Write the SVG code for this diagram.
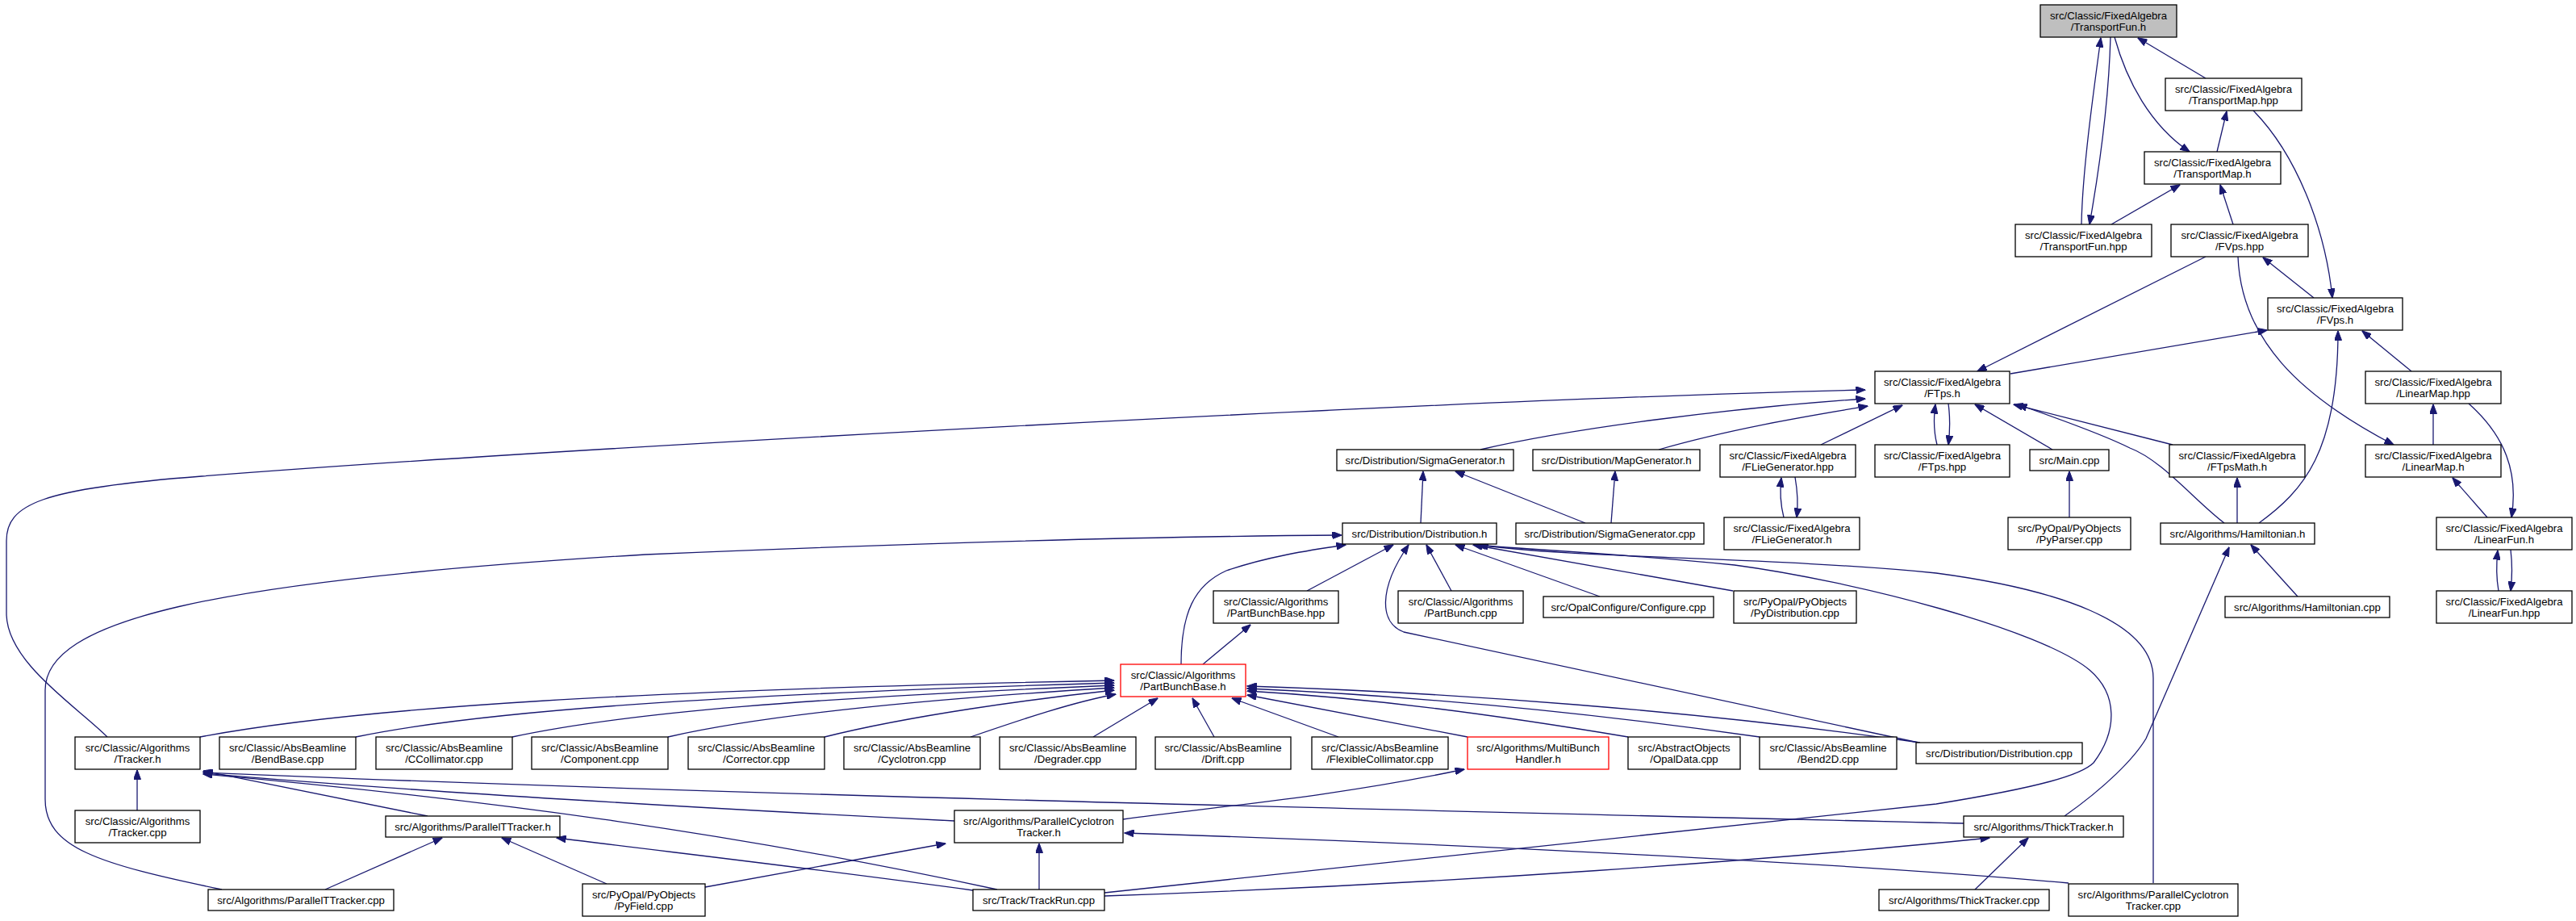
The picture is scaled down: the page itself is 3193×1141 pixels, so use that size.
<svg xmlns="http://www.w3.org/2000/svg" width="3193" height="1141" viewBox="0 0 3193 1141">
<style>
.node rect{fill:#fff;stroke:#000;stroke-width:1.3}
.root rect{fill:#bfbfbf}
.trunc rect{stroke:#ff0000}
text{font-family:"Liberation Sans",Arial,Helvetica,sans-serif;font-size:13.2px;text-anchor:middle;fill:#000}
.edges path{fill:none;stroke:#191970;stroke-width:1.3;marker-end:url(#arr)}
</style>
<defs>
<marker id="arr" viewBox="0 0 12 9" refX="11.5" refY="4.5" markerWidth="12" markerHeight="9" markerUnits="userSpaceOnUse" orient="auto">
<path d="M0,0 L12,4.5 L0,9 z" fill="#191970" stroke="#191970" stroke-width="1"/>
</marker>
</defs>
<rect x="0" y="0" width="3193" height="1141" fill="#fff"/>
<g class="edges" id="edges">
<path d="M2580,278 C2581,215 2594,120 2604,47"/>
<path d="M2616,46 C2614,120 2602,210 2590,278"/>
<path d="M2621,46 C2636,100 2665,155 2714,188"/>
<path d="M2734,97 L2650,47"/>
<path d="M2748,188 L2760,138"/>
<path d="M2793,137 C2845,190 2882,280 2891,369"/>
<path d="M2617,278 L2702,229"/>
<path d="M2768,278 L2752,229"/>
<path d="M2734,318 L2451,460"/>
<path d="M2774,318 C2778,420 2850,490 2967,551"/>
<path d="M2868,369 L2805,319"/>
<path d="M2492,463 L2810,409"/>
<path d="M2800,648 C2855,608 2898,560 2898,410"/>
<path d="M2989,460 L2928,410"/>
<path d="M3016,551 L3016,501"/>
<path d="M3060,500 C3105,540 3122,585 3113,641"/>
<path d="M2415,500 C2417,515 2417,535 2415,551"/>
<path d="M2401,551 C2397,535 2397,515 2399,501"/>
<path d="M2544,557 L2448,501"/>
<path d="M2693,551 L2496,501"/>
<path d="M2757,648 C2720,620 2680,570 2640,555 C2600,535 2540,515 2501,501"/>
<path d="M2773,648 L2773,592"/>
<path d="M3083,641 L3040,592"/>
<path d="M3097,732 C3094,715 3094,700 3096,682"/>
<path d="M3112,681 C3114,698 3114,715 3112,732"/>
<path d="M133,913 C95,875 8,820 8,760 L8,670 C8,625 50,605 250,590 C700,555 1800,495 2312,483"/>
<path d="M1835,557 C1950,530 2150,505 2312,494"/>
<path d="M2056,557 C2150,530 2250,514 2315,503"/>
<path d="M2257,551 L2358,502"/>
<path d="M2211,641 C2207,625 2206,608 2208,592"/>
<path d="M2225,591 C2228,608 2229,625 2227,641"/>
<path d="M2565,641 L2565,584"/>
<path d="M1761,648 L1764,584"/>
<path d="M1965,648 L1804,584"/>
<path d="M1997,648 L2002,584"/>
<path d="M275,1102 C120,1070 56,1050 56,990 L56,855 C56,770 250,720 800,687 C1200,670 1500,664 1663,663"/>
<path d="M1464,823 C1464,760 1480,725 1520,707 C1570,690 1620,682 1668,675"/>
<path d="M1620,732 L1727,675"/>
<path d="M2378,920 L1740,783 C1710,772 1708,730 1746,675"/>
<path d="M1799,732 L1768,675"/>
<path d="M1983,739 L1804,675"/>
<path d="M2148,732 L1826,675"/>
<path d="M1369,1106 L2400,996 C2530,975 2580,960 2595,945 C2625,905 2625,860 2590,830 C2530,780 2300,720 2150,700 C2000,685 1880,680 1830,675"/>
<path d="M2669,1094 L2669,840 C2669,770 2550,730 2400,710 C2200,690 1950,692 1833,675"/>
<path d="M248,913 C450,875 800,855 1381,843"/>
<path d="M441,913 C600,880 900,860 1381,846"/>
<path d="M635,913 C780,882 1000,865 1381,849"/>
<path d="M828,913 C950,885 1150,866 1381,852"/>
<path d="M1022,913 C1130,886 1280,866 1381,855"/>
<path d="M1203,913 C1270,890 1330,870 1383,860"/>
<path d="M1355,913 L1435,865"/>
<path d="M1505,913 L1478,865"/>
<path d="M1659,913 L1527,865"/>
<path d="M1819,913 C1700,890 1620,875 1546,861"/>
<path d="M2018,913 C1850,885 1700,865 1546,856"/>
<path d="M2181,913 C1950,880 1750,862 1546,853"/>
<path d="M2380,920 C2100,880 1800,858 1546,850"/>
<path d="M1491,823 L1550,774"/>
<path d="M170,1004 L170,954"/>
<path d="M530,1011 L252,955"/>
<path d="M2434,1020 C1800,1005 900,985 252,957"/>
<path d="M1183,1017 C900,1003 500,980 252,958"/>
<path d="M1236,1102 C900,1030 600,990 252,959"/>
<path d="M403,1102 L548,1038"/>
<path d="M752,1095 L622,1038"/>
<path d="M1206,1103 C1000,1075 850,1058 690,1038"/>
<path d="M874,1099 L1172,1045"/>
<path d="M1288,1102 L1288,1045"/>
<path d="M2564,1094 C2300,1070 1800,1045 1394,1032"/>
<path d="M1392,1015 C1500,1000 1650,988 1815,953"/>
<path d="M2448,1102 L2514,1038"/>
<path d="M1369,1110 C1800,1095 2200,1065 2466,1038"/>
<path d="M2559,1011 C2610,975 2645,940 2660,915 L2763,678"/>
<path d="M2848,739 L2790,675"/>
</g>
<g id="n_TransportFun_h" class="node root"><rect x="2529" y="6" width="169" height="40"/><text x="2613.5" y="24">src/Classic/FixedAlgebra</text><text x="2613.5" y="38">/TransportFun.h</text></g>
<g id="n_TransportMap_hpp" class="node"><rect x="2684" y="97" width="169" height="40"/><text x="2768.5" y="115">src/Classic/FixedAlgebra</text><text x="2768.5" y="129">/TransportMap.hpp</text></g>
<g id="n_TransportMap_h" class="node"><rect x="2658" y="188" width="169" height="40"/><text x="2742.5" y="206">src/Classic/FixedAlgebra</text><text x="2742.5" y="220">/TransportMap.h</text></g>
<g id="n_TransportFun_hpp" class="node"><rect x="2498" y="278" width="169" height="40"/><text x="2582.5" y="296">src/Classic/FixedAlgebra</text><text x="2582.5" y="310">/TransportFun.hpp</text></g>
<g id="n_FVps_hpp" class="node"><rect x="2691" y="278" width="170" height="40"/><text x="2776" y="296">src/Classic/FixedAlgebra</text><text x="2776" y="310">/FVps.hpp</text></g>
<g id="n_FVps_h" class="node"><rect x="2811" y="369" width="167" height="40"/><text x="2894.5" y="387">src/Classic/FixedAlgebra</text><text x="2894.5" y="401">/FVps.h</text></g>
<g id="n_FTps_h" class="node"><rect x="2324" y="460" width="167" height="40"/><text x="2407.5" y="478">src/Classic/FixedAlgebra</text><text x="2407.5" y="492">/FTps.h</text></g>
<g id="n_LinearMap_hpp" class="node"><rect x="2932" y="460" width="168" height="40"/><text x="3016" y="478">src/Classic/FixedAlgebra</text><text x="3016" y="492">/LinearMap.hpp</text></g>
<g id="n_SigmaGenerator_h" class="node"><rect x="1657" y="557" width="219" height="26"/><text x="1766.5" y="574.5">src/Distribution/SigmaGenerator.h</text></g>
<g id="n_MapGenerator_h" class="node"><rect x="1900" y="557" width="207" height="26"/><text x="2003.5" y="574.5">src/Distribution/MapGenerator.h</text></g>
<g id="n_FLieGenerator_hpp" class="node"><rect x="2132" y="551" width="168" height="40"/><text x="2216" y="569">src/Classic/FixedAlgebra</text><text x="2216" y="583">/FLieGenerator.hpp</text></g>
<g id="n_FTps_hpp" class="node"><rect x="2324" y="551" width="167" height="40"/><text x="2407.5" y="569">src/Classic/FixedAlgebra</text><text x="2407.5" y="583">/FTps.hpp</text></g>
<g id="n_Main_cpp" class="node"><rect x="2516" y="557" width="98" height="26"/><text x="2565" y="574.5">src/Main.cpp</text></g>
<g id="n_FTpsMath_h" class="node"><rect x="2689" y="551" width="168" height="40"/><text x="2773" y="569">src/Classic/FixedAlgebra</text><text x="2773" y="583">/FTpsMath.h</text></g>
<g id="n_LinearMap_h" class="node"><rect x="2932" y="551" width="168" height="40"/><text x="3016" y="569">src/Classic/FixedAlgebra</text><text x="3016" y="583">/LinearMap.h</text></g>
<g id="n_Distribution_h" class="node"><rect x="1664" y="648" width="191" height="26"/><text x="1759.5" y="665.5">src/Distribution/Distribution.h</text></g>
<g id="n_SigmaGenerator_cpp" class="node"><rect x="1879" y="648" width="233" height="26"/><text x="1995.5" y="665.5">src/Distribution/SigmaGenerator.cpp</text></g>
<g id="n_FLieGenerator_h" class="node"><rect x="2137" y="641" width="168" height="40"/><text x="2221" y="659">src/Classic/FixedAlgebra</text><text x="2221" y="673">/FLieGenerator.h</text></g>
<g id="n_PyParser_cpp" class="node"><rect x="2489" y="641" width="152" height="40"/><text x="2565" y="659">src/PyOpal/PyObjects</text><text x="2565" y="673">/PyParser.cpp</text></g>
<g id="n_Hamiltonian_h" class="node"><rect x="2678" y="648" width="191" height="26"/><text x="2773.5" y="665.5">src/Algorithms/Hamiltonian.h</text></g>
<g id="n_LinearFun_h" class="node"><rect x="3020" y="641" width="168" height="40"/><text x="3104" y="659">src/Classic/FixedAlgebra</text><text x="3104" y="673">/LinearFun.h</text></g>
<g id="n_PartBunchBase_hpp" class="node"><rect x="1504" y="732" width="155" height="40"/><text x="1581.5" y="750">src/Classic/Algorithms</text><text x="1581.5" y="764">/PartBunchBase.hpp</text></g>
<g id="n_PartBunch_cpp" class="node"><rect x="1733" y="732" width="155" height="40"/><text x="1810.5" y="750">src/Classic/Algorithms</text><text x="1810.5" y="764">/PartBunch.cpp</text></g>
<g id="n_Configure_cpp" class="node"><rect x="1913" y="739" width="211" height="26"/><text x="2018.5" y="756.5">src/OpalConfigure/Configure.cpp</text></g>
<g id="n_PyDistribution_cpp" class="node"><rect x="2149" y="732" width="152" height="40"/><text x="2225" y="750">src/PyOpal/PyObjects</text><text x="2225" y="764">/PyDistribution.cpp</text></g>
<g id="n_Hamiltonian_cpp" class="node"><rect x="2758" y="739" width="204" height="26"/><text x="2860" y="756.5">src/Algorithms/Hamiltonian.cpp</text></g>
<g id="n_LinearFun_hpp" class="node"><rect x="3020" y="732" width="168" height="40"/><text x="3104" y="750">src/Classic/FixedAlgebra</text><text x="3104" y="764">/LinearFun.hpp</text></g>
<g id="n_PartBunchBase_h" class="node trunc"><rect x="1389" y="823" width="155" height="40"/><text x="1466.5" y="841">src/Classic/Algorithms</text><text x="1466.5" y="855">/PartBunchBase.h</text></g>
<g id="n_Tracker_h" class="node"><rect x="93" y="913" width="155" height="40"/><text x="170.5" y="931">src/Classic/Algorithms</text><text x="170.5" y="945">/Tracker.h</text></g>
<g id="n_BendBase_cpp" class="node"><rect x="272" y="913" width="169" height="40"/><text x="356.5" y="931">src/Classic/AbsBeamline</text><text x="356.5" y="945">/BendBase.cpp</text></g>
<g id="n_CCollimator_cpp" class="node"><rect x="466" y="913" width="169" height="40"/><text x="550.5" y="931">src/Classic/AbsBeamline</text><text x="550.5" y="945">/CCollimator.cpp</text></g>
<g id="n_Component_cpp" class="node"><rect x="659" y="913" width="169" height="40"/><text x="743.5" y="931">src/Classic/AbsBeamline</text><text x="743.5" y="945">/Component.cpp</text></g>
<g id="n_Corrector_cpp" class="node"><rect x="853" y="913" width="169" height="40"/><text x="937.5" y="931">src/Classic/AbsBeamline</text><text x="937.5" y="945">/Corrector.cpp</text></g>
<g id="n_Cyclotron_cpp" class="node"><rect x="1046" y="913" width="169" height="40"/><text x="1130.5" y="931">src/Classic/AbsBeamline</text><text x="1130.5" y="945">/Cyclotron.cpp</text></g>
<g id="n_Degrader_cpp" class="node"><rect x="1239" y="913" width="169" height="40"/><text x="1323.5" y="931">src/Classic/AbsBeamline</text><text x="1323.5" y="945">/Degrader.cpp</text></g>
<g id="n_Drift_cpp" class="node"><rect x="1432" y="913" width="168" height="40"/><text x="1516" y="931">src/Classic/AbsBeamline</text><text x="1516" y="945">/Drift.cpp</text></g>
<g id="n_FlexibleCollimator_cpp" class="node"><rect x="1626" y="913" width="169" height="40"/><text x="1710.5" y="931">src/Classic/AbsBeamline</text><text x="1710.5" y="945">/FlexibleCollimator.cpp</text></g>
<g id="n_MultiBunchHandler_h" class="node trunc"><rect x="1819" y="913" width="175" height="40"/><text x="1906.5" y="931">src/Algorithms/MultiBunch</text><text x="1906.5" y="945">Handler.h</text></g>
<g id="n_OpalData_cpp" class="node"><rect x="2018" y="913" width="139" height="40"/><text x="2087.5" y="931">src/AbstractObjects</text><text x="2087.5" y="945">/OpalData.cpp</text></g>
<g id="n_Bend2D_cpp" class="node"><rect x="2181" y="913" width="170" height="40"/><text x="2266" y="931">src/Classic/AbsBeamline</text><text x="2266" y="945">/Bend2D.cpp</text></g>
<g id="n_Distribution_cpp" class="node"><rect x="2375" y="920" width="206" height="26"/><text x="2478" y="937.5">src/Distribution/Distribution.cpp</text></g>
<g id="n_Tracker_cpp" class="node"><rect x="93" y="1004" width="155" height="40"/><text x="170.5" y="1022">src/Classic/Algorithms</text><text x="170.5" y="1036">/Tracker.cpp</text></g>
<g id="n_ParallelTTracker_h" class="node"><rect x="478" y="1011" width="216" height="26"/><text x="586" y="1028.5">src/Algorithms/ParallelTTracker.h</text></g>
<g id="n_ParallelCyclotronTracker_h" class="node"><rect x="1183" y="1004" width="209" height="40"/><text x="1287.5" y="1022">src/Algorithms/ParallelCyclotron</text><text x="1287.5" y="1036">Tracker.h</text></g>
<g id="n_ThickTracker_h" class="node"><rect x="2434" y="1011" width="198" height="26"/><text x="2533" y="1028.5">src/Algorithms/ThickTracker.h</text></g>
<g id="n_ParallelTTracker_cpp" class="node"><rect x="258" y="1102" width="230" height="26"/><text x="373" y="1119.5">src/Algorithms/ParallelTTracker.cpp</text></g>
<g id="n_PyField_cpp" class="node"><rect x="722" y="1095" width="152" height="40"/><text x="798" y="1113">src/PyOpal/PyObjects</text><text x="798" y="1127">/PyField.cpp</text></g>
<g id="n_TrackRun_cpp" class="node"><rect x="1206" y="1102" width="163" height="26"/><text x="1287.5" y="1119.5">src/Track/TrackRun.cpp</text></g>
<g id="n_ThickTracker_cpp" class="node"><rect x="2329" y="1102" width="211" height="26"/><text x="2434.5" y="1119.5">src/Algorithms/ThickTracker.cpp</text></g>
<g id="n_ParallelCyclotronTracker_cpp" class="node"><rect x="2564" y="1095" width="210" height="40"/><text x="2669" y="1113">src/Algorithms/ParallelCyclotron</text><text x="2669" y="1127">Tracker.cpp</text></g>
</svg>
